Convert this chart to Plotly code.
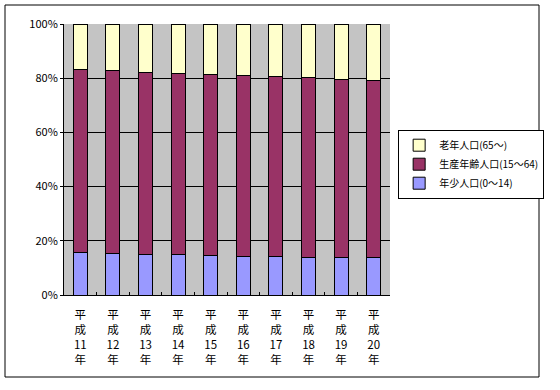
import plotly.graph_objects as go

categories = ["平<br>成<br>11<br>年", "平<br>成<br>12<br>年", "平<br>成<br>13<br>年", "平<br>成<br>14<br>年",
              "平<br>成<br>15<br>年", "平<br>成<br>16<br>年", "平<br>成<br>17<br>年", "平<br>成<br>18<br>年",
              "平<br>成<br>19<br>年", "平<br>成<br>20<br>年"]
young = [15.8, 15.4, 15.0, 14.9, 14.6, 14.3, 14.2, 13.9, 13.9, 13.9]
working = [67.5, 67.5, 67.2, 67.0, 66.9, 66.8, 66.5, 66.4, 65.6, 65.2]
old = [16.7, 17.1, 17.8, 18.1, 18.5, 18.9, 19.3, 19.7, 20.5, 20.9]
names = ["年少人口(0～14)", "生産年齢人口(15～64)", "老年人口(65～)"]
colors = ["#9999FF", "#993366", "#FFFFCC"]
yticks = [0, 20, 40, 60, 80, 100]

font = "Noto Sans CJK JP"
fig = go.Figure()
for vals, name, col in zip([young, working, old], names, colors):
    fig.add_trace(go.Bar(x=categories, y=vals, name=name, width=0.43,
                         marker=dict(color=col, line=dict(color="black", width=1))))

fig.update_layout(
    width=560, height=390, barmode="stack",
    margin=dict(l=64, r=170, t=24, b=95, autoexpand=False),
    paper_bgcolor="white", plot_bgcolor="#C4C4C4",
    font=dict(family=font, size=11, color="black"),
    showlegend=True,
    legend=dict(x=1.025, y=0.61, xanchor="left", yanchor="top",
                traceorder="reversed", bordercolor="black", borderwidth=1,
                bgcolor="white", font=dict(size=10), itemwidth=30,
                tracegroupgap=0),
    xaxis=dict(showline=True, linecolor="black", linewidth=1, ticks="inside",
               tickson="boundaries", ticklen=3, tickcolor="black",
               tickfont=dict(size=11.5), showgrid=False, automargin=False,
               ticklabelstandoff=9),
    yaxis=dict(range=[0, 100], tickvals=yticks, ticktext=[f"{v}%" for v in yticks],
               showline=True, linecolor="black", linewidth=1, showgrid=True,
               gridcolor="black", gridwidth=1, zeroline=False, automargin=False,
               ticks="outside", ticklen=3, tickcolor="black", tickfont=dict(size=11)),
    shapes=[dict(type="rect", xref="paper", yref="paper",
                 x0=-59/326, x1=475/326, y0=-82/271, y1=1 + 19/271,
                 line=dict(color="black", width=1), fillcolor="rgba(0,0,0,0)")],
)
fig.write_html("out.html", config={"displayModeBar": False},
               post_script="document.body.style.margin='0';document.body.style.overflow='hidden';")
